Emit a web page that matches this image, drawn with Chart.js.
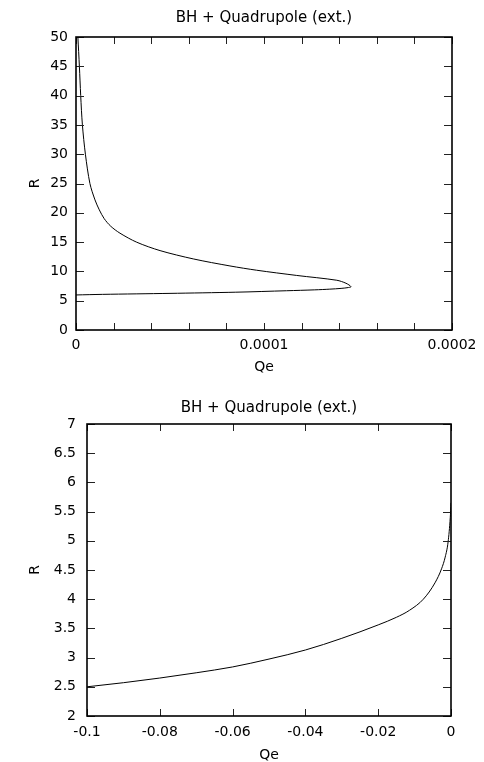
<!DOCTYPE html>
<html>
<head>
<meta charset="utf-8">
<script src="https://cdn.jsdelivr.net/npm/chart.js@4.4.1/dist/chart.umd.min.js"></script>
<style>
  html, body { margin: 0; padding: 0; background: #fff; overflow: hidden; }
  .box { position: absolute; left: 0; width: 484px; height: 385px; }
</style>
</head>
<body>
<div class="box" style="top:0"><canvas id="top" width="484" height="385"></canvas></div>
<div class="box" style="top:385px"><canvas id="bottom" width="484" height="385"></canvas></div>
<script>
// top panel: Qe vs R, lower branch out to the tip, then the upper branch back up
const qeTop = [0, 0.000014, 0.00005, 0.000085, 0.000112, 0.000127, 0.000135, 0.000141, 0.000145, 0.0001463,
  0.0001436, 0.0001387, 0.0001174, 0.0000961, 0.0000819, 0.0000624, 0.0000447, 0.0000323, 0.0000234,
  0.0000185, 0.0000150, 0.0000124, 0.0000101, 0.0000074, 0.0000050, 0.0000034, 0.0000025, 0.0000018, 0.0000010];
const rTop = [5.98, 6.08, 6.25, 6.45, 6.7, 6.85, 6.97, 7.1, 7.25, 7.4,
  7.98, 8.49, 9.31, 10.2, 10.93, 12.13, 13.55, 14.98, 16.52,
  17.7, 19.0, 20.5, 22.2, 25, 30, 35, 40, 45, 50];
const topXTickValues = [0, 0.0001, 0.0002];
const topXTickLabels = ['0', '0.0001', '0.0002'];
const topYTickLabels = ['0', '5', '10', '15', '20', '25', '30', '35', '40', '45', '50'];

// bottom panel
const qeBottom = [-0.1, -0.09, -0.08, -0.07, -0.06, -0.05, -0.04, -0.03, -0.02, -0.015,
  -0.0114, -0.0076, -0.0044, -0.0026, -0.0016, -0.0008, -0.0002, 0];
const rBottom = [2.5, 2.57, 2.65, 2.74, 2.84, 2.975, 3.13, 3.33, 3.56, 3.69,
  3.81, 4.0, 4.28, 4.52, 4.72, 4.98, 5.4, 5.65];
const bottomXTickLabels = ['-0.1', '-0.08', '-0.06', '-0.04', '-0.02', '0'];
const bottomYTickLabels = ['2', '2.5', '3', '3.5', '4', '4.5', '5', '5.5', '6', '6.5', '7'];

const titleText = 'BH + Quadrupole (ext.)';
const FONT = 'DejaVu Sans';

// gnuplot style frame with inward ticks on all four sides
const frameTicks = {
  id: 'frameTicks',
  afterDatasetsDraw(chart, args, opts) {
    const { ctx, chartArea: a, scales: { x, y } } = chart;
    ctx.save();
    ctx.strokeStyle = '#222';
    ctx.lineWidth = 1;
    ctx.beginPath();
    x.ticks.forEach(t => {
      const px = Math.round(x.getPixelForValue(t.value)) + 0.5;
      ctx.moveTo(px, a.bottom); ctx.lineTo(px, a.bottom - opts.xLen);
      ctx.moveTo(px, a.top); ctx.lineTo(px, a.top + opts.xLen);
    });
    y.ticks.forEach(t => {
      const py = Math.round(y.getPixelForValue(t.value)) + 0.5;
      ctx.moveTo(a.left, py); ctx.lineTo(a.left + opts.yLen, py);
      ctx.moveTo(a.right, py); ctx.lineTo(a.right - opts.yLen, py);
    });
    ctx.stroke();
    ctx.strokeStyle = '#000';
    ctx.lineWidth = 1.6;
    ctx.strokeRect(a.left, a.top, a.right - a.left, a.bottom - a.top);
    ctx.restore();
  }
};

function pickLabel(values, labels) {
  return v => {
    for (let i = 0; i < values.length; i++) {
      if (Math.abs(v - values[i]) < 1e-9) return labels[i];
    }
    return '';
  };
}

function makeChart(id, cfg) {
  const points = cfg.qe.map((q, i) => ({ x: q, y: cfg.r[i] }));
  return new Chart(document.getElementById(id), {
    type: 'scatter',
    data: {
      datasets: [{
        data: points,
        showLine: true,
        borderColor: '#000',
        borderWidth: 1,
        pointRadius: 0,
        tension: cfg.tension,
        cubicInterpolationMode: cfg.mono ? 'monotone' : 'default'
      }]
    },
    options: {
      responsive: false,
      animation: false,
      layout: { padding: { top: 0, left: 0, right: cfg.padRight, bottom: 0 } },
      plugins: {
        legend: { display: false },
        tooltip: { enabled: false },
        title: {
          display: true,
          fullSize: false,
          text: titleText,
          color: '#000',
          font: { family: FONT, size: 15, weight: 'normal' },
          padding: cfg.titlePad
        },
        frameTicks: { xLen: 7, yLen: 8 }
      },
      scales: {
        x: {
          type: 'linear',
          min: cfg.xMin,
          max: cfg.xMax,
          grid: { display: false, drawTicks: false },
          border: { display: false },
          ticks: {
            stepSize: cfg.xStep,
            autoSkip: false,
            maxRotation: 0,
            padding: cfg.xTickPad,
            color: '#000',
            font: { family: FONT, size: 14 },
            callback: cfg.xLabel
          },
          title: {
            display: true,
            text: 'Qe',
            color: '#000',
            font: { family: FONT, size: 14 },
            padding: { top: 0, bottom: cfg.xTitlePad }
          },
          afterFit: s => { s.height = cfg.xHeight; }
        },
        y: {
          type: 'linear',
          min: cfg.yMin,
          max: cfg.yMax,
          grid: { display: false, drawTicks: false },
          border: { display: false },
          ticks: {
            stepSize: cfg.yStep,
            autoSkip: false,
            padding: cfg.yTickPad,
            color: '#000',
            font: { family: FONT, size: 14 },
            callback: cfg.yLabel
          },
          title: {
            display: true,
            text: 'R',
            color: '#000',
            font: { family: FONT, size: 14 },
            padding: { top: 27, bottom: 0 }
          },
          afterFit: s => { s.width = cfg.yWidth; }
        }
      }
    },
    plugins: [frameTicks]
  });
}

makeChart('top', {
  qe: qeTop, r: rTop, tension: 0.3, mono: false,
  xMin: 0, xMax: 0.0002, xStep: 0.00002,
  yMin: 0, yMax: 50, yStep: 5,
  xLabel: pickLabel(topXTickValues, topXTickLabels),
  yLabel: (v, i) => topYTickLabels[i],
  padRight: 32, titlePad: { top: 9, bottom: 10 },
  xTickPad: 7, xTitlePad: 9.6, xHeight: 55,
  yTickPad: 8, yWidth: 76
});

makeChart('bottom', {
  qe: qeBottom, r: rBottom, tension: 0, mono: true,
  xMin: -0.1, xMax: 0, xStep: 0.02,
  yMin: 2, yMax: 7, yStep: 0.5,
  xLabel: (v, i) => bottomXTickLabels[i],
  yLabel: (v, i) => bottomYTickLabels[i],
  padRight: 33, titlePad: { top: 14, bottom: 7 },
  xTickPad: 8, xTitlePad: 6.6, xHeight: 54,
  yTickPad: 11, yWidth: 87
});
</script>
</body>
</html>
